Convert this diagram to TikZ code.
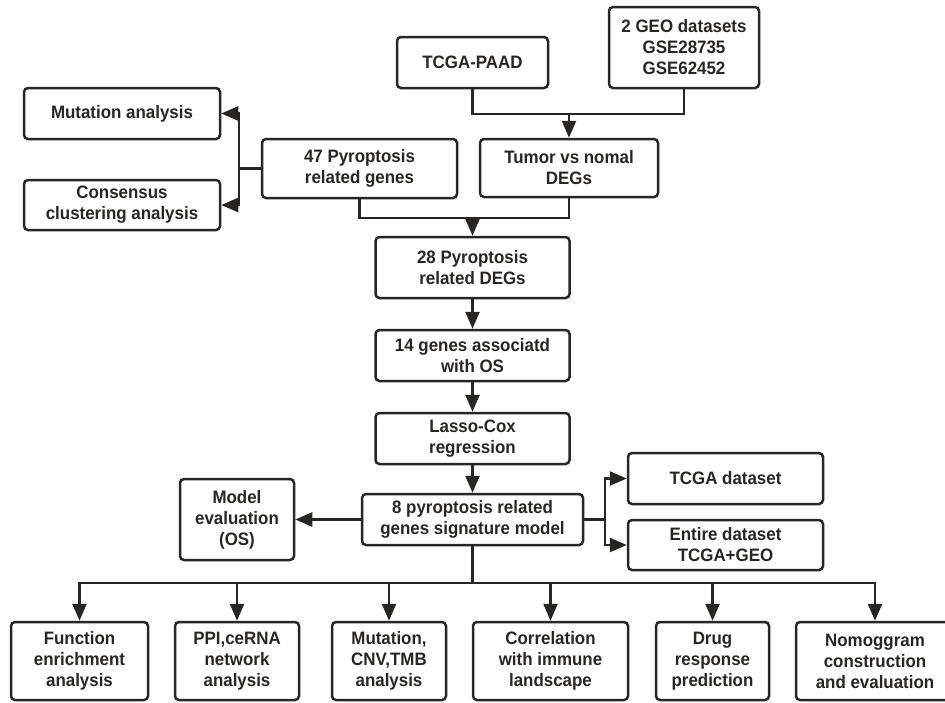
\documentclass[tikz,border=0pt]{standalone}
\usepackage{fontspec}
\setmainfont[FakeStretch=0.94]{Liberation Sans}
\usetikzlibrary{arrows.meta}
\definecolor{ink}{RGB}{40,38,36}
\tikzset{
  box/.style={draw=ink, text=ink, rounded corners=4pt, line width=2.5pt, align=center,
    font=\bfseries\fontsize{18}{21}\selectfont, inner sep=0pt},
  link/.style={draw=ink, line width=2.5pt},
  arr/.style={link, -{Triangle[length=17pt,width=14pt]}}
}
\newcommand{\bx}[5]{\node[box, minimum width=#3pt, minimum height=#4pt] (#1) at (#2) {#5};}
\begin{document}
\begin{tikzpicture}[x=1pt,y=-1pt]
\useasboundingbox (0,0) rectangle (945,702);
\bx{mut}{122,113.5}{196}{51}{Mutation analysis}
\bx{cons}{122,205}{196}{50}{Consensus\\clustering analysis}
\bx{p47}{359.5,168.5}{195}{59}{47 Pyroptosis\\related genes}
\bx{tcga}{472.5,62.5}{151}{51}{TCGA-PAAD}
\bx{geo}{684,47.5}{150}{81}{2 GEO datasets\\GSE28735\\GSE62452}
\bx{tumor}{569,168}{178}{58}{Tumor vs nomal\\DEGs}
\bx{p28}{472.5,267.5}{194}{61}{28 Pyroptosis\\related DEGs}
\bx{g14}{472.5,355.5}{194}{51}{14 genes associatd\\with OS}
\bx{lasso}{472.5,438.5}{194}{51}{Lasso-Cox\\regression}
\bx{p8}{472.5,519.5}{221}{51}{8 pyroptosis related\\genes signature model}
\bx{model}{237,519.5}{114}{81}{Model\\evaluation\\(OS)}
\bx{tds}{725.5,478.5}{195}{51}{TCGA dataset}
\bx{ent}{725.5,545}{195}{50}{Entire dataset\\TCGA+GEO}
\bx{f1}{79.5,661}{137}{78}{Function\\enrichment\\analysis}
\bx{f2}{237,661}{124}{78}{PPI,ceRNA\\network\\analysis}
\bx{f3}{389,661}{114}{78}{Mutation,\\CNV,TMB\\analysis}
\bx{f4}{550.5,661}{155}{78}{Correlation\\with immune\\landscape}
\bx{f5}{712.5,661}{113}{78}{Drug\\response\\prediction}
\bx{f6}{875,661}{158}{78}{Nomoggram\\construction\\and evaluation}
\coordinate (j1) at (569,114);
\coordinate (j2) at (472.5,218);
\coordinate (j3) at (239,168.5);
\coordinate (j4) at (605,519.5);
\coordinate (j5) at (472.5,583);
\draw[link] (tcga.south) |- (j1) -| (geo.south);
\draw[arr] (j1) -- (tumor.north);
\draw[link] (p47.south) |- (j2) -| (tumor.south);
\draw[arr] (j2) -- (p28.north);
\draw[link] (p47.west) -- (j3);
\draw[arr] (j3) |- (mut.east);
\draw[arr] (j3) |- (cons.east);
\draw[arr] (p28) -- (g14);
\draw[arr] (g14) -- (lasso);
\draw[arr] (lasso) -- (p8);
\draw[arr] (p8.west) -- (model.east);
\draw[link] (p8.east) -- (j4);
\draw[arr] (j4) |- (tds.west);
\draw[arr] (j4) |- (ent.west);
\draw[link] (p8.south) -- (j5);
\foreach \f in {f1,f2,f3,f4,f5,f6} \draw[arr] (j5) -| (\f.north);
\end{tikzpicture}
\end{document}
